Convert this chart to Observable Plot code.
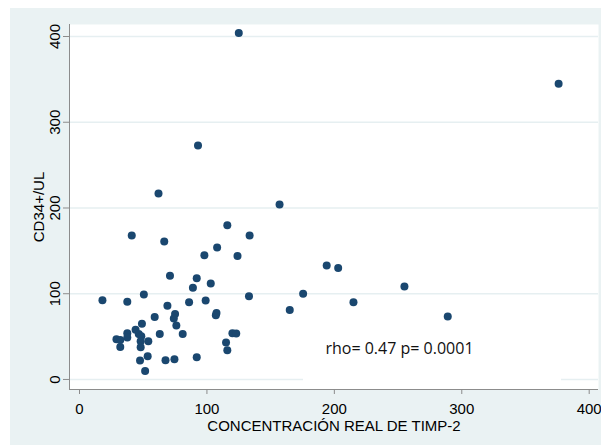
<!DOCTYPE html>
<html><head><meta charset="utf-8">
<script src="https://cdn.jsdelivr.net/npm/d3@7"></script>
<script src="https://cdn.jsdelivr.net/npm/@observablehq/plot@0.6"></script>
<style>
body{margin:0;background:#fff;}
#wrap{position:relative;width:601px;height:446px;overflow:hidden;}
#bg{position:absolute;left:10px;top:8px;width:591px;height:437px;background:#eaf2f3;}
#chart{position:absolute;left:0;top:0;}
</style></head><body>
<div id="wrap"><div id="bg"></div><div id="chart"></div></div>
<script>
// TIMP-2 concentration (x) and CD34+/uL (y)
const timp2 = [125, 376, 93, 62, 157, 116, 133.5, 41, 66.5, 108, 98, 124, 71, 92, 103, 89,
  18, 37.5, 50.5, 133, 99, 86, 69, 165, 175.5, 194, 203, 215, 255, 289,
  59, 75, 74, 76, 107, 107.5, 49, 44, 63, 81, 120, 123, 115, 116,
  37.5, 37.5, 29, 32, 32, 46.5, 48.5, 48, 54, 48, 47.5, 53.5, 51.5, 67.5, 74.5, 92];
const cd34 = [404, 345, 273, 217, 204, 180, 168, 168, 161, 154, 145, 144, 121, 118, 112, 107,
  92.5, 90.5, 99, 97, 92, 90, 86, 81, 100, 133, 130, 90, 108.5, 73.5,
  73, 76.5, 71, 63, 75, 77.5, 65, 58, 53, 53, 54, 53.5, 43, 34,
  54, 49, 47, 46, 38, 53, 50.5, 44.5, 44.5, 37.5, 22, 27, 10, 22.5, 23.5, 26];

const xTicks = [0, 100, 200, 300, 400];
const yTicks = [0, 100, 200, 300, 400];
const xDomain = [-7.85, 407.3];
const yDomain = [-11.7, 414];
const xLabel = "CONCENTRACIÓN REAL DE TIMP-2";
const yLabel = "CD34+/UL";
const noteText = ["rho= 0.47 p= 0.0001"];
const noteX = [193];
const noteY = [35.5];
const noteBoxX = [175.8, 378.3];
const noteBoxY = [-6, 45];

const points = timp2.map((x, i) => ({x, y: cd34[i]}));
const notes = noteText.map((t, i) => ({t, x: noteX[i], y: noteY[i]}));
const noteBox = [{x1: noteBoxX[0], x2: noteBoxX[1], y1: noteBoxY[0], y2: noteBoxY[1]}];

const axisColor = "#8c8c8c";
const chart = Plot.plot({
  width: 601, height: 446,
  marginLeft: 69, marginRight: 3, marginTop: 24, marginBottom: 57,
  style: {background: "transparent", fontFamily: "'Liberation Sans', Arial, sans-serif", fontSize: "15px", color: "#000"},
  x: {domain: xDomain},
  y: {domain: yDomain},
  marks: [
    Plot.frame({fill: "white", stroke: null}),
    Plot.gridY(yTicks, {stroke: "#e6eff1", strokeOpacity: 1, strokeWidth: 1.6}),
    Plot.rect(noteBox, {x1: "x1", x2: "x2", y1: "y1", y2: "y2", fill: "white"}),
    Plot.ruleX([xDomain[0]], {stroke: axisColor}),
    Plot.ruleY([yDomain[0]], {stroke: axisColor}),
    Plot.axisX(xTicks, {tickSize: 5, tickPadding: 9, stroke: axisColor, fill: "#000",
      label: xLabel, labelAnchor: "center", labelOffset: 41, labelArrow: "none"}),
    Plot.axisY(yTicks, {tickSize: 6, tickPadding: 4, tickRotate: -90, stroke: axisColor, fill: "#000",
      label: yLabel, labelAnchor: "center", labelOffset: 36, labelArrow: "none"}),
    Plot.dot(points, {x: "x", y: "y", r: 4, fill: "#1a476f", stroke: "none"}),
    Plot.text(notes, {x: "x", y: "y", text: "t", textAnchor: "start", lineAnchor: "middle",
      fontFamily: "'Open Sans', sans-serif", fontSize: 16, fill: "#111"})
  ]
});
document.getElementById("chart").appendChild(chart);
</script>
</body></html>
